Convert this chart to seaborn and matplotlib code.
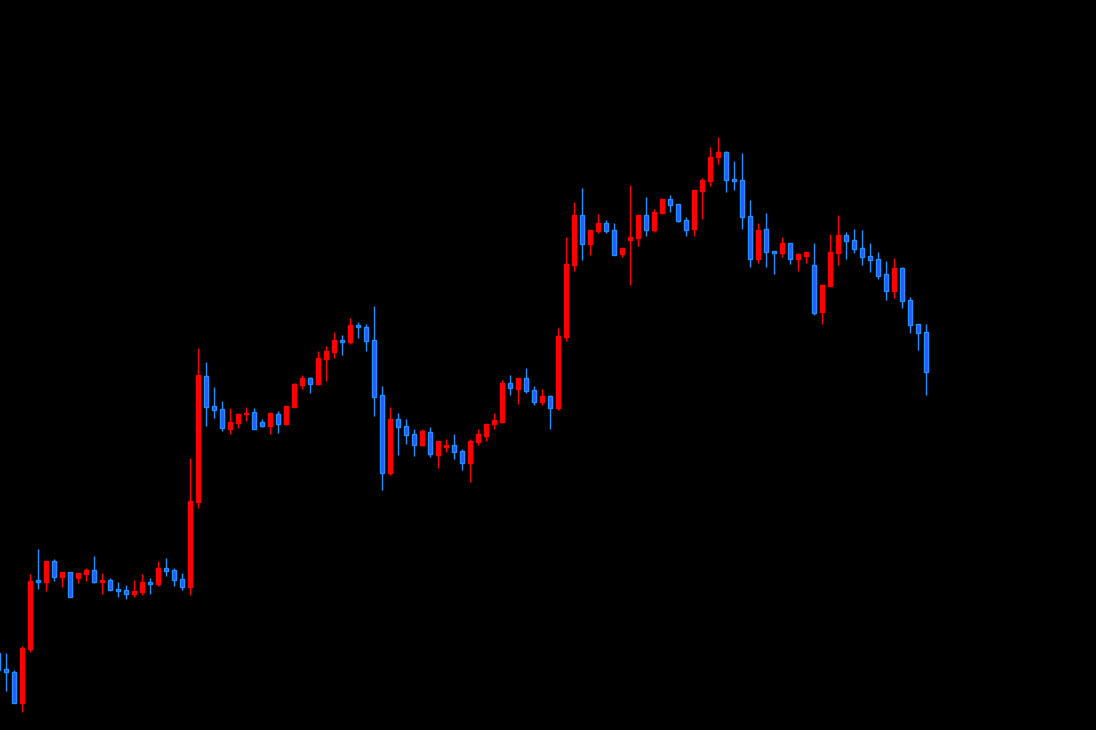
import numpy as np
import matplotlib
matplotlib.use("Agg")
import matplotlib.pyplot as plt
import seaborn as sns

# candle readings, measured in screen units from the top of the chart
# (so a smaller number means a higher price; the y axis is inverted below)
bar_idx = list(range(-1, 116))

open_px = [653, 669, 672, 703, 649, 580, 582, 561, 577, 572, 578, 574,
           570, 582, 580, 589, 590, 594, 592, 582, 584, 568, 570, 579,
           587, 502, 376, 406, 409, 429, 423, 414, 412, 422, 426, 414,
           424, 407, 385, 378, 384, 359, 352, 340, 342, 325, 327, 340,
           395, 473, 419, 426, 434, 445, 432, 455, 447, 445, 451, 463,
           442, 436, 424, 422, 383, 389, 378, 390, 402, 396, 408, 337,
           265, 215, 244, 231, 223, 230, 254, 240, 238, 215, 230, 213,
           199, 204, 220, 229, 191, 181, 157, 152, 179, 180, 216, 259,
           229, 251, 253, 243, 259, 256, 265, 312, 286, 253, 235, 240,
           248, 256, 259, 274, 291, 268, 300, 324, 332]
high_px = [650, 653, 670, 646, 574, 549, 561, 559, 572, 572, 573, 568,
           556, 573, 578, 582, 585, 580, 574, 578, 561, 558, 568, 573,
           458, 348, 362, 387, 401, 408, 413, 407, 408, 419, 413, 411,
           406, 383, 375, 377, 351, 346, 332, 335, 318, 322, 324, 306,
           386, 407, 413, 419, 429, 429, 427, 441, 439, 434, 449, 439,
           429, 424, 413, 380, 375, 378, 368, 386, 389, 395, 328, 237,
           202, 188, 230, 214, 220, 223, 248, 185, 215, 197, 209, 199,
           195, 204, 217, 190, 178, 147, 137, 151, 161, 153, 200, 223,
           213, 251, 237, 243, 253, 252, 243, 284, 234, 215, 232, 229,
           230, 243, 252, 261, 258, 267, 297, 324, 324]
low_px = [672, 691, 703, 712, 652, 589, 591, 581, 587, 597, 583, 581,
          583, 594, 590, 597, 599, 597, 595, 594, 586, 576, 586, 590,
          595, 508, 426, 418, 431, 434, 428, 421, 429, 427, 434, 433,
          425, 407, 389, 393, 385, 381, 358, 355, 344, 338, 351, 416,
          490, 475, 455, 444, 456, 446, 457, 468, 452, 459, 470, 482,
          445, 441, 429, 423, 395, 404, 393, 405, 405, 429, 410, 341,
          271, 260, 255, 233, 233, 255, 257, 285, 246, 236, 232, 214,
          212, 222, 236, 236, 219, 186, 164, 192, 190, 229, 267, 263,
          267, 274, 257, 264, 271, 263, 315, 324, 286, 265, 259, 253,
          265, 272, 279, 300, 298, 308, 333, 350, 395]
close_px = [670, 672, 703, 648, 581, 582, 561, 577, 572, 597, 573, 570,
            582, 580, 590, 591, 594, 591, 582, 584, 568, 571, 580, 587,
            501, 375, 407, 410, 428, 422, 414, 413, 429, 426, 413, 424,
            406, 384, 378, 384, 358, 351, 340, 342, 325, 327, 341, 397,
            473, 419, 427, 435, 445, 431, 454, 441, 445, 452, 463, 441,
            434, 424, 420, 383, 388, 378, 391, 402, 396, 408, 336, 264,
            215, 244, 230, 223, 231, 255, 248, 237, 215, 230, 212, 199,
            205, 221, 230, 190, 180, 157, 152, 180, 181, 217, 259, 230,
            252, 253, 243, 259, 254, 252, 313, 285, 252, 235, 241, 249,
            257, 260, 276, 291, 268, 301, 325, 333, 372]

up_color = "#ff0000"
down_fill = "#2f55ff"
down_edge = "#1e90ff"

sns.set_style("dark", {"axes.facecolor": "black", "figure.facecolor": "black"})

x = np.array(bar_idx)
o = np.array(open_px)
h = np.array(high_px)
l = np.array(low_px)
c = np.array(close_px)
is_up = c < o  # close above open on screen

fig = plt.figure(figsize=(10.96, 7.30), dpi=100, facecolor="black")
ax = fig.add_axes([0, 0, 1, 1])
ax.set_facecolor("black")

# wicks
ax.vlines(x[is_up], h[is_up], l[is_up], color=up_color, linewidth=1.0, zorder=1)
ax.vlines(x[~is_up], h[~is_up], l[~is_up], color=down_edge, linewidth=1.0, zorder=1)

# bodies
body_bottom = np.minimum(o, c)
body_height = np.maximum(np.abs(o - c), 0.6)
ax.bar(x[is_up], body_height[is_up], bottom=body_bottom[is_up], width=0.5,
       color=up_color, edgecolor=up_color, linewidth=1.0, zorder=2)
ax.bar(x[~is_up], body_height[~is_up], bottom=body_bottom[~is_up], width=0.5,
       color=down_fill, edgecolor=down_edge, linewidth=1.0, zorder=2)

ax.set_xlim((0 - 6.3) / 8, (1096 - 6.3) / 8)
ax.set_ylim(730, 0)
ax.axis("off")

fig.savefig("out.png", dpi=100, facecolor="black")
